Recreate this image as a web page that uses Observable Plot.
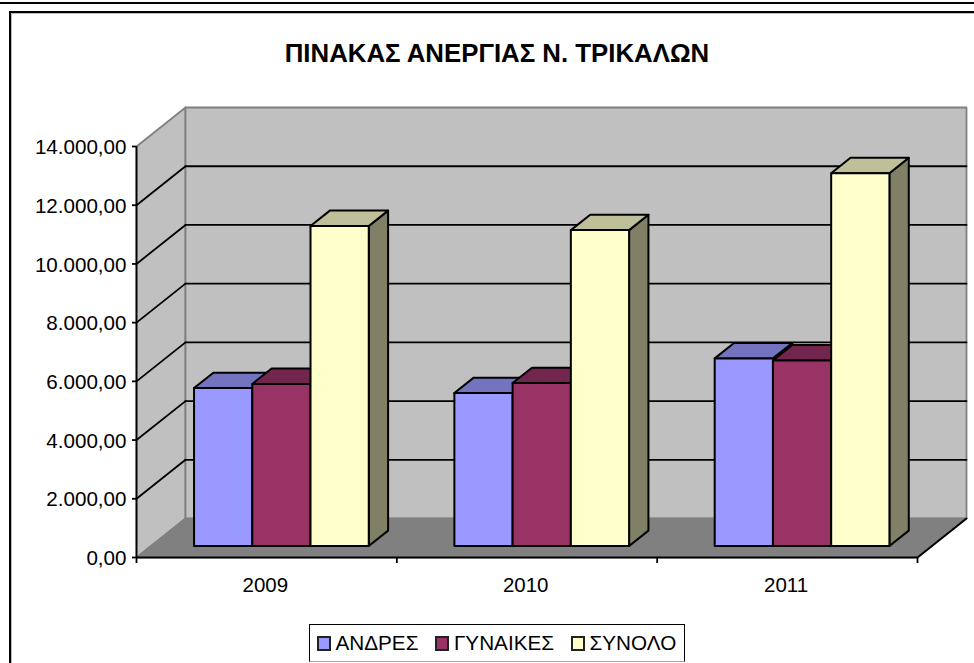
<!DOCTYPE html>
<html lang="el">
<head>
<meta charset="utf-8">
<script src="https://cdn.jsdelivr.net/npm/d3@7"></script>
<script src="https://cdn.jsdelivr.net/npm/@observablehq/plot@0.6"></script>
<style>
  html, body { margin: 0; padding: 0; background: #fff; width: 974px; height: 663px; overflow: hidden; font-family: "Liberation Sans", Arial, sans-serif; color: #000; }
  #chart { position: absolute; left: 0; top: 0; }
  .rule-top { position: absolute; left: 0; right: 0; top: 2px; height: 2px; background: #000; }
  .frame { position: absolute; left: 9px; top: 11px; right: -10px; bottom: -10px; border: 2px solid #000; box-shadow: inset 1px 1px 0 #bbb; }
  #title { position: absolute; left: 0; width: 994px; top: 37.5px; text-align: center; font-weight: bold; font-size: 25.8px; line-height: 30px; }
  #legend { position: absolute; left: 309px; top: 624px; width: 376px; height: 38px; box-sizing: border-box; border: 1.5px solid #000; border-bottom-color: #aaa; display: flex; align-items: center; padding-left: 7px; font-size: 20.7px; }
  #legend .item { display: flex; align-items: center; margin-right: 17px; }
  #legend .swatch { width: 10px; height: 11px; border: 2px solid #222; margin-right: 4.5px; }
</style>
</head>
<body>
<div class="rule-top"></div>
<div class="frame"></div>
<div id="chart"></div>
<div id="title"></div>
<div id="legend"></div>
<script>
const chartTitle = "ΠΙΝΑΚΑΣ ΑΝΕΡΓΙΑΣ Ν. ΤΡΙΚΑΛΩΝ";
const years = ["2009", "2010", "2011"];
const seriesNames = ["ΑΝΔΡΕΣ", "ΓΥΝΑΙΚΕΣ", "ΣΥΝΟΛΟ"];
const andres = [5380, 5210, 6390];
const gynaikes = [5520, 5550, 6320];
const synolo = [10900, 10760, 12700];
const yTicks = [0, 2000, 4000, 6000, 8000, 10000, 12000, 14000];
const faceColors = ["#9999ff", "#993366", "#ffffcc"];
const topColors = ["#7373bf", "#73264d", "#bfbf99"];
const sideColors = ["#4d4d80", "#4d1a33", "#808066"];

const series = [andres, gynaikes, synolo];
const xMax = years.length, yMax = 14000;
// oblique projection of the chart's depth axis, in data units
const depthX = 0.1882, depthY = 1328;
const barFront = 0.295, barBack = 0.69;
const barWidth = 0.2237, barInset = 0.1655;
const P = (x, y, d = 0) => ({x: x + d * depthX, y: y + d * depthY});
const fmt = d3.formatLocale({decimal: ",", thousands: ".", grouping: [3], currency: ["", ""]}).format(",.2f");

const poly = (pts, fill, stroke, strokeWidth = 2) =>
  Plot.line(pts, {x: "x", y: "y", curve: "linear-closed", fill, stroke, strokeWidth, strokeLinejoin: "round"});
const seg = (pts, stroke = "#000", strokeWidth = 1.8) =>
  Plot.line(pts, {x: "x", y: "y", stroke, strokeWidth});

const marks = [];
// walls and floor
marks.push(poly([P(0, 0), P(0, 0, 1), P(0, yMax, 1), P(0, yMax)], "#c0c0c0", "#808080", 1.8));
marks.push(poly([P(0, 0, 1), P(xMax, 0, 1), P(xMax, yMax, 1), P(0, yMax, 1)], "#c0c0c0", "#808080", 1.8));
// gridlines
for (const v of yTicks.slice(1, -1)) {
  marks.push(seg([P(0, v), P(0, v, 1)]));
  marks.push(seg([P(0, v, 1), P(xMax, v, 1)]));
}
marks.push(poly([P(0, 0), P(xMax, 0), P(xMax, 0, 1), P(0, 0, 1)], "#808080", "#808080", 1.5));
marks.push(seg([P(xMax, 0), P(xMax, 0, 1)], "#000", 2));
// bars
years.forEach((_, i) => {
  series.forEach((vals, s) => {
    const v = vals[i];
    const x0 = i + barInset + s * barWidth, x1 = x0 + barWidth;
    marks.push(poly([P(x1, 0, barFront), P(x1, 0, barBack), P(x1, v, barBack), P(x1, v, barFront)], sideColors[s], "#000"));
    marks.push(poly([P(x0, v, barFront), P(x1, v, barFront), P(x1, v, barBack), P(x0, v, barBack)], topColors[s], "#000"));
    marks.push(poly([P(x0, 0, barFront), P(x1, 0, barFront), P(x1, v, barFront), P(x0, v, barFront)], faceColors[s], "#000"));
  });
});
// axes
marks.push(Plot.ruleX([0], {y1: 0, y2: yMax, stroke: "#000", strokeWidth: 1.8}));
marks.push(Plot.ruleY([0], {x1: 0, x2: xMax, stroke: "#000", strokeWidth: 2.2}));
marks.push(Plot.axisY({ticks: yTicks, anchor: "left", tickSize: 4, text: null, stroke: "#000", strokeWidth: 1.8, label: null}));
marks.push(Plot.axisY({ticks: yTicks, anchor: "left", tickSize: 0, tickPadding: 10, tickFormat: fmt, fontSize: 20.6, fill: "#000", label: null, dy: 1}));
marks.push(Plot.axisX({ticks: d3.range(xMax + 1), anchor: "bottom", tickSize: 6, tickFormat: () => "", stroke: "#000", strokeWidth: 1.8, label: null}));
marks.push(Plot.text(years, {x: (_, i) => i + 0.495, y: 0, text: d => d, dy: 28, fontSize: 20.5, fill: "#000", lineAnchor: "middle"}));

const chart = Plot.plot({
  width: 974, height: 663,
  marginLeft: 136, marginRight: 57, marginTop: 146, marginBottom: 106,
  x: {type: "linear", domain: [0, xMax], axis: null},
  y: {type: "linear", domain: [0, yMax], axis: null},
  style: {background: "transparent", fontFamily: '"Liberation Sans", Arial, sans-serif', overflow: "visible"},
  marks
});
document.getElementById("chart").append(chart);
document.getElementById("title").textContent = chartTitle;
const legend = document.getElementById("legend");
seriesNames.forEach((name, i) => {
  const item = document.createElement("span"); item.className = "item";
  const sw = document.createElement("span"); sw.className = "swatch"; sw.style.background = faceColors[i];
  const tx = document.createElement("span"); tx.textContent = name;
  item.append(sw, tx); legend.append(item);
});
</script>
</body>
</html>
